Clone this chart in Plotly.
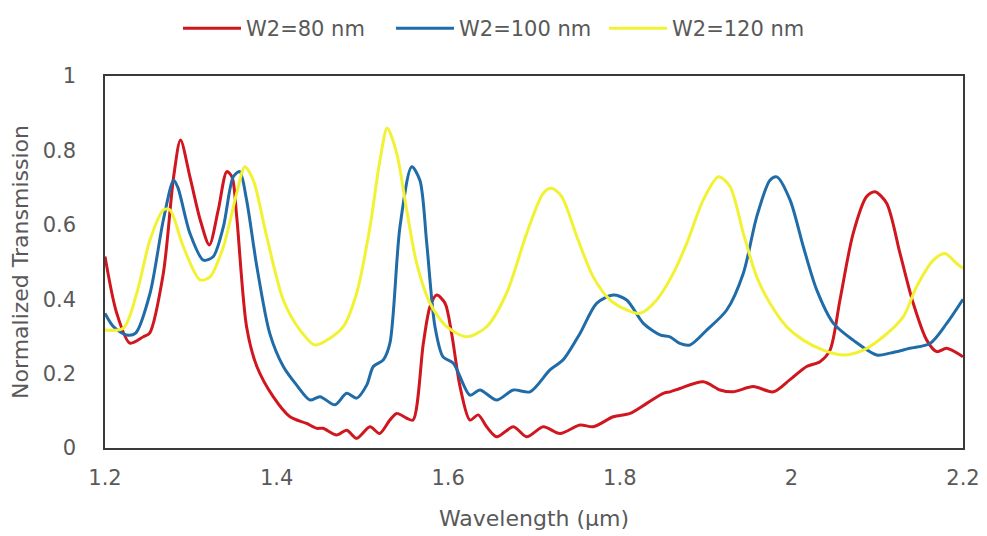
import plotly.graph_objects as go

# ---- data ----
wl_80 = [1.2, 1.2136, 1.229, 1.2447, 1.252, 1.268, 1.28, 1.288, 1.299, 1.311, 1.3216, 1.332, 1.342, 1.348,
         1.3535, 1.365, 1.377, 1.396, 1.4156, 1.435, 1.4467, 1.454, 1.47, 1.4817, 1.4933, 1.5089, 1.52, 1.532,
         1.54, 1.5516, 1.559, 1.571, 1.5788, 1.5866, 1.5963, 1.604, 1.6138, 1.6254, 1.635, 1.6448, 1.6565,
         1.676, 1.6915, 1.7108, 1.7303, 1.7536, 1.769, 1.7924, 1.8119, 1.8314, 1.8507, 1.8585, 1.87, 1.8973,
         1.9168, 1.932, 1.9556, 1.979, 1.998, 2.0178, 2.0333, 2.045, 2.0566, 2.072, 2.0877, 2.0974, 2.111,
         2.1266, 2.142, 2.1577, 2.1694, 2.181, 2.2]
tr_80 = [0.515, 0.363, 0.282, 0.299, 0.309, 0.47, 0.729, 0.828, 0.729, 0.613, 0.546, 0.64, 0.743, 0.729,
         0.622, 0.326, 0.219, 0.138, 0.084, 0.066, 0.053, 0.053, 0.035, 0.048, 0.026, 0.057, 0.039, 0.075,
         0.093, 0.08, 0.075, 0.281, 0.38, 0.411, 0.389, 0.308, 0.165, 0.075, 0.089, 0.057, 0.03,
         0.057, 0.03, 0.057, 0.039, 0.062, 0.057, 0.084, 0.093, 0.12, 0.147, 0.151, 0.16, 0.178,
         0.156, 0.151, 0.165, 0.151, 0.183, 0.219, 0.232, 0.263, 0.398, 0.577, 0.676, 0.689, 0.658,
         0.523, 0.389, 0.29, 0.259, 0.268, 0.245]

wl_100 = [1.2, 1.21, 1.225, 1.2357, 1.2525, 1.268, 1.28, 1.285, 1.299, 1.3146, 1.326, 1.338, 1.3495, 1.357,
          1.365, 1.377, 1.392, 1.4078, 1.4234, 1.439, 1.4506, 1.468, 1.4817, 1.4933, 1.505, 1.5127, 1.5244,
          1.532, 1.5438, 1.5575, 1.567, 1.575, 1.5846, 1.594, 1.606, 1.6254, 1.637, 1.6565, 1.676, 1.6953,
          1.7186, 1.734, 1.7536, 1.773, 1.7924, 1.808, 1.8275, 1.8468, 1.8585, 1.87, 1.8818, 1.9013, 1.9246,
          1.944, 1.9596, 1.975, 1.983, 1.9984, 2.0139, 2.0295, 2.049, 2.072, 2.0995, 2.115, 2.138, 2.1615,
          2.181, 2.2]
tr_100 = [0.362, 0.326, 0.304, 0.309, 0.416, 0.613, 0.72, 0.70, 0.577, 0.505, 0.514, 0.595, 0.729, 0.743,
          0.667, 0.487, 0.308, 0.219, 0.169, 0.129, 0.138, 0.116, 0.147, 0.134, 0.169, 0.219, 0.237,
          0.281, 0.595, 0.756, 0.72, 0.55, 0.326, 0.245, 0.228, 0.142, 0.156, 0.129, 0.156, 0.151,
          0.21, 0.237, 0.308, 0.389, 0.411, 0.398, 0.335, 0.304, 0.299, 0.281, 0.277, 0.317, 0.371,
          0.47, 0.622, 0.72, 0.729, 0.667, 0.541, 0.425, 0.335, 0.29, 0.25, 0.255, 0.268, 0.281,
          0.335, 0.40]

wl_120 = [1.2, 1.2214, 1.237, 1.2524, 1.268, 1.2757, 1.2913, 1.3107, 1.3224, 1.338, 1.3535, 1.363, 1.3728,
          1.3885, 1.4078, 1.4273, 1.4448, 1.4622, 1.4777, 1.4933, 1.5089, 1.5205, 1.529, 1.54, 1.5516,
          1.5633, 1.5788, 1.5983, 1.6216, 1.6448, 1.668, 1.6915, 1.7108, 1.7206, 1.7323, 1.75, 1.769,
          1.7886, 1.808, 1.8235, 1.843, 1.8624, 1.878, 1.8973, 1.915, 1.9284, 1.944, 1.9596, 1.975, 1.9945,
          2.0138, 2.037, 2.0605, 2.0838, 2.107, 2.1305, 2.146, 2.1655, 2.179, 2.1926, 2.2]
tr_120 = [0.317, 0.322, 0.416, 0.559, 0.64, 0.64, 0.541, 0.452, 0.46, 0.541, 0.685, 0.756, 0.72,
          0.568, 0.398, 0.317, 0.277, 0.295, 0.326, 0.416, 0.595, 0.774, 0.86, 0.792, 0.64,
          0.496, 0.389, 0.326, 0.299, 0.326, 0.416, 0.577, 0.685, 0.698, 0.676, 0.568, 0.46,
          0.398, 0.371, 0.362, 0.398, 0.47, 0.55, 0.667, 0.729, 0.703, 0.577, 0.46, 0.389, 0.326,
          0.29, 0.263, 0.25, 0.263, 0.299, 0.353, 0.434, 0.505, 0.523, 0.496, 0.483]

series_names = ["W2=80 nm", "W2=100 nm", "W2=120 nm"]
x_tick_vals = [1.2, 1.4, 1.6, 1.8, 2.0, 2.2]
x_tick_text = ["1.2", "1.4", "1.6", "1.8", "2", "2.2"]
y_tick_vals = [0, 0.2, 0.4, 0.6, 0.8, 1.0]
y_tick_text = ["0", "0.2", "0.4", "0.6", "0.8", "1"]

colors = ["#D0161E", "#1F6CA8", "#F2F234"]
FONT = "DejaVu Sans"
GRAY = "#595959"

# page body has an 8px margin; figure sized to fit the 987x536 window
W, H = 979, 528

fig = go.Figure()
for xs, ys, name, c in [(wl_80, tr_80, series_names[0], colors[0]),
                        (wl_100, tr_100, series_names[1], colors[1]),
                        (wl_120, tr_120, series_names[2], colors[2])]:
    fig.add_trace(go.Scatter(x=xs, y=ys, mode="lines", name=name,
                             line=dict(color=c, width=3.0, shape="spline", smoothing=0.8)))

fig.update_layout(
    width=W, height=H,
    margin=dict(l=97, r=24, t=68, b=88),
    paper_bgcolor="white", plot_bgcolor="white",
    font=dict(family=FONT, color=GRAY, size=21),
    showlegend=True,
    legend=dict(orientation="h", x=0.5, xanchor="center", xref="container",
                y=1, yanchor="top", yref="container",
                bgcolor="rgba(0,0,0,0)",
                font=dict(size=21, color=GRAY), itemwidth=58,
                entrywidth=140, entrywidthmode="pixels", tracegroupgap=0),
)
fig.update_xaxes(range=[1.2, 2.2], tickvals=x_tick_vals, ticktext=x_tick_text,
                 showgrid=False, zeroline=False, showline=True, mirror=True, automargin=False,
                 linecolor="#3a3a3a", linewidth=1.5, ticks="", ticklabelstandoff=10,
                 tickfont=dict(size=21, color=GRAY),
                 title=dict(text="Wavelength (µm)", font=dict(size=22, color=GRAY), standoff=22))
fig.update_yaxes(range=[0, 1], tickvals=y_tick_vals, ticktext=y_tick_text,
                 showgrid=False, zeroline=False, showline=True, mirror=True, automargin=False,
                 linecolor="#3a3a3a", linewidth=1.5, ticks="", ticklabelstandoff=23,
                 tickfont=dict(size=21, color=GRAY),
                 title=dict(text="Normalized Transmission", font=dict(size=22, color=GRAY), standoff=14))

fig.write_html("out.html")
